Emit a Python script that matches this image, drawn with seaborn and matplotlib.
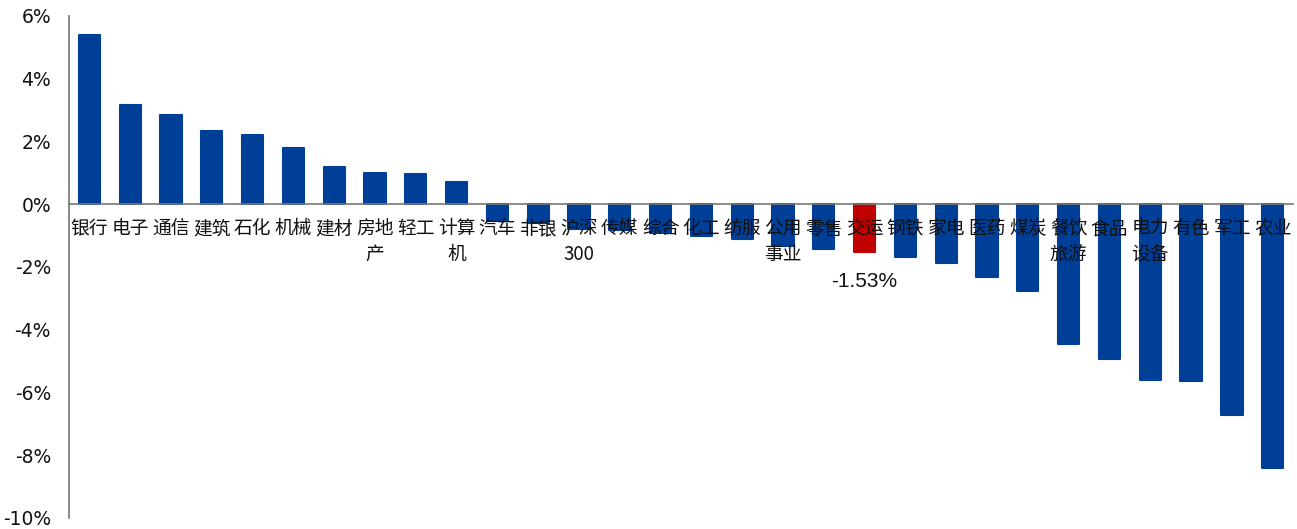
import matplotlib
matplotlib.use("Agg")
import matplotlib.pyplot as plt
import matplotlib.ticker as mticker
import seaborn as sns
import pandas as pd

# Industry weekly returns (%), sorted from best to worst
industries = ["银行", "电子", "通信", "建筑", "石化", "机械", "建材", "房地\n产", "轻工", "计算\n机",
              "汽车", "非银", "沪深\n300", "传媒", "综合", "化工", "纺服", "公用\n事业", "零售", "交运",
              "钢铁", "家电", "医药", "煤炭", "餐饮\n旅游", "食品", "电力\n设备", "有色", "军工", "农业"]
returns = [5.40, 3.17, 2.85, 2.34, 2.21, 1.79, 1.20, 1.00, 0.95, 0.72,
           -0.53, -0.60, -0.78, -0.81, -0.92, -1.02, -1.11, -1.34, -1.43, -1.53,
           -1.69, -1.87, -2.33, -2.76, -4.45, -4.92, -5.60, -5.63, -6.72, -8.42]
highlight = "交运"
yticks = [-10, -8, -6, -4, -2, 0, 2, 4, 6]

BLUE = "#003F98"
RED = "#C00000"

sns.set_theme(style="white")
plt.rcParams["font.family"] = ["Noto Sans CJK SC", "DejaVu Sans"]

df = pd.DataFrame({"industry": industries, "ret": returns})
palette = {name: (RED if name == highlight else BLUE) for name in industries}

fig = plt.figure(figsize=(12.97, 5.29), dpi=100)
ax = fig.add_axes([0.0532, 0.0208, 0.9438, 0.949])

sns.barplot(data=df, x="industry", y="ret", hue="industry", palette=palette,
            legend=False, width=0.52, ax=ax, saturation=1)
for bar, name in zip(ax.patches, industries):
    col = RED if name == highlight else BLUE
    bar.set_edgecolor(col)
    bar.set_linewidth(1.5)
    bar.set_joinstyle("round")
    bar.set_zorder(1)

n = len(industries)
ax.set_xlim(-0.5, n - 0.5)
ax.set_ylim(-10, 6)
ax.set_xlabel("")
ax.set_ylabel("")

# y axis
ax.set_yticks(yticks)
ax.yaxis.set_major_formatter(mticker.FuncFormatter(lambda v, _: f"{v:.0f}%"))
ax.tick_params(axis="y", direction="in", length=5, width=1, color="#777777",
               labelsize=13.5, pad=13, labelcolor="#111111")
for lab in ax.get_yticklabels():
    lab.set_family(["DejaVu Sans"])

# zero line acts as the category axis
for side in ["top", "right"]:
    ax.spines[side].set_visible(False)
ax.spines["bottom"].set_position(("data", 0))
ax.spines["bottom"].set_color("#777777")
ax.spines["left"].set_color("#777777")
ax.spines["bottom"].set_linewidth(1.2)
ax.spines["left"].set_linewidth(1.2)

ax.set_xticks(range(n))
ax.set_xticklabels(industries, fontsize=13.5, linespacing=1.3)
ax.tick_params(axis="x", which="major", length=0, pad=10, labelcolor="#111111")
ax.xaxis.set_minor_locator(mticker.FixedLocator([i - 0.5 for i in range(2, n + 1, 2)]))
ax.tick_params(axis="x", which="minor", direction="in", length=6, width=1, color="#777777")
# category names sit on top of the negative bars
ax.xaxis.set_zorder(5)

# value label under the highlighted bar
hi = industries.index(highlight)
ax.annotate(f"{returns[hi]:.2f}%", xy=(hi, returns[hi]), xytext=(0, -14),
            textcoords="offset points", ha="center", va="top",
            fontsize=15, family=["Liberation Sans", "DejaVu Sans"], color="#111111")

fig.savefig("out.png", dpi=100)
